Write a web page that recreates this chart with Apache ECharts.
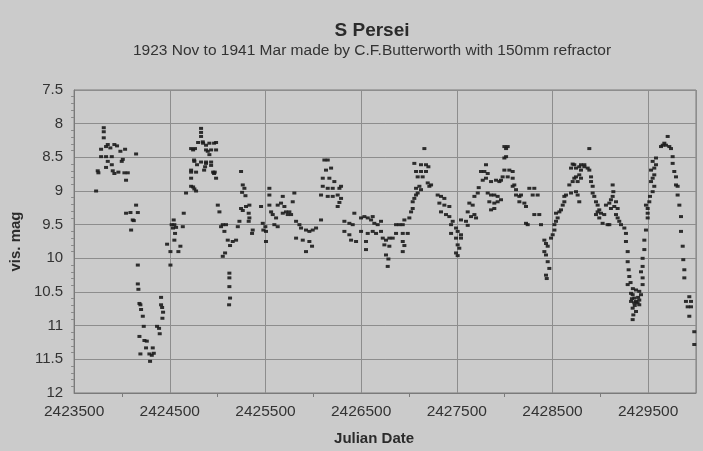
<!DOCTYPE html>
<html>
<head>
<meta charset="utf-8">
<script src="https://cdn.jsdelivr.net/npm/echarts@6/dist/echarts.min.js"></script>
<style>
html,body{margin:0;padding:0;background:#cbcbcb;}
#chart{width:703px;height:451px;}
</style>
</head>
<body>
<div id="chart"></div>
<script>
// ---- text ----
const chartTitle = "S Persei";
const chartSubtitle = "1923 Nov to 1941 Mar made by C.F.Butterworth with 150mm refractor";
const xAxisName = "Julian Date";
const yAxisName = "vis. mag";

// ---- axis ranges ----
const xMin = 2423500, xMax = 2430000, xStep = 1000;
const yMin = 7.5, yMax = 12, yStep = 0.5;

const obsBlockA = [
  [2423730,9.0],[2423747,8.70],[2423754,8.73],[2423782,8.38],[2423782,8.49],[2423810,8.06],[2423810,8.12],[2423810,8.21],
  [2423834,8.34],[2423834,8.49],[2423834,8.65],[2423852,8.31],[2423852,8.56],[2423879,8.36],[2423894,8.49],[2423894,8.61],
  [2423904,8.70],[2423921,8.31],[2423921,8.74],[2423949,8.33],[2423963,8.72],[2423984,8.41],[2423998,8.56],[2424009,8.53],
  [2424026,8.73],[2424033,8.38],[2424043,8.84],[2424061,8.73],[2424148,8.45],
  [2424148,9.21],[2424043,9.33],[2424089,9.32],[2424166,9.32],[2424113,9.43],[2424124,9.44],[2424096,9.58],
  [2424166,10.10],[2424166,10.38],[2424172,10.46],[2424183,10.67],[2424193,10.69],[2424200,10.76],[2424218,10.86],
  [2424228,11.01],[2424183,11.16],[2424235,11.22],[2424260,11.23],[2424252,11.33],[2424322,11.33],[2424193,11.42],
  [2424287,11.42],[2424312,11.44],[2424333,11.41],[2424294,11.53],[2424367,11.01],[2424388,11.04],[2424395,11.12],
  [2424423,10.89],[2424409,10.69],[2424420,10.73],[2424409,10.58],[2424430,10.80]
];
const obsBlockB = [
  [2424507,10.10],[2424507,9.90],[2424590,9.90],[2424472,9.79],[2424611,9.82],[2424548,9.73],[2424555,9.63],[2424541,9.43],
  [2424520,9.50],[2424548,9.50],[2424566,9.54],[2424534,9.55],[2424636,9.53],[2424646,9.33],[2424670,9.03],
  [2424723,8.93],[2424757,8.97],[2424775,9.0],[2424723,8.72],[2424775,8.72],[2424757,8.56],[2424785,8.61],[2424723,8.37],
  [2424764,8.37],[2424827,8.07],[2424827,8.13],[2424827,8.19],[2424845,8.27],[2424879,8.32],[2424914,8.29],[2424897,8.41],
  [2424914,8.46],[2424879,8.59],[2424869,8.64],[2424963,8.29],[2424984,8.39],[2424953,8.72],[2424963,8.74],[2424984,8.81],
  [2424723,8.69],[2424723,8.81],[2424744,8.94],[2424744,8.39],[2424754,8.54],[2424827,8.57],[2424879,8.57],[2424859,8.69],
  [2424879,8.39],[2424932,8.39],[2424796,8.28],[2424848,8.29],[2424984,8.28],[2424932,8.57],[2424932,8.62],[2424970,8.72],
  [2425002,9.21],[2425019,9.31],[2425054,9.50],[2425088,9.50],[2425036,9.53],[2425071,9.60],[2425106,9.73],[2425158,9.75],
  [2425193,9.73],[2425130,9.81],[2425054,9.97],[2425078,9.92],[2425123,10.22],[2425123,10.29],[2425123,10.42],
  [2425130,10.59],[2425120,10.69],[2425228,9.45],[2425211,9.53],[2425245,8.71],[2425263,8.91],[2425280,8.96],
  [2425256,9.02],[2425291,9.07],[2425245,9.26],[2425297,9.23],[2425332,9.21],[2425263,9.29],[2425325,9.33],[2425332,9.40],
  [2425325,9.45],[2425367,9.58],[2425360,9.63],[2425454,9.23],[2425472,9.48],[2425499,9.53],[2425478,9.58]
];
const obsBlockC = [
  [2425506,9.60],[2425506,9.75],[2425541,8.96],[2425541,9.06],[2425541,9.21],[2425559,9.31],[2425576,9.35],[2425611,9.40],
  [2425628,9.21],[2425663,9.18],[2425698,9.23],[2425715,9.31],[2425681,9.33],[2425733,9.35],[2425681,9.08],[2425593,9.50],
  [2425628,9.53],[2425750,9.31],[2425768,9.35],[2425802,9.03],[2425785,9.16],[2425820,9.45],[2425855,9.50],[2425872,9.55],
  [2425924,9.58],[2425959,9.60],[2425994,9.58],[2426029,9.55],[2425820,9.70],[2425890,9.73],[2425959,9.75],[2425924,9.90],
  [2425987,9.82],[2426081,9.43],[2426116,8.54],[2426151,8.54],[2426133,8.69],[2426186,8.66],[2426099,8.81],[2426168,8.81],
  [2426099,8.93],[2426151,8.96],[2426203,8.96],[2426081,9.06],[2426151,9.08],[2426203,9.08],[2426220,8.86],[2426273,8.96],
  [2426290,8.93],[2426255,9.06],[2426290,9.11],[2426273,9.17],[2426255,9.23],[2426325,9.45],[2426377,9.48],[2426412,9.50],
  [2426325,9.60],[2426377,9.65],[2426395,9.73],[2426447,9.75],[2426429,9.33],[2426499,9.40]
];
const obsBlockD = [
  [2426534,9.38],[2426569,9.40],[2426604,9.43],[2426621,9.38],[2426499,9.60],[2426569,9.63],[2426621,9.60],[2426656,9.63],
  [2426708,9.60],[2426551,9.75],[2426551,9.87],[2426638,9.48],[2426673,9.50],[2426708,9.45],[2426726,9.70],[2426760,9.73],
  [2426795,9.70],[2426830,9.70],[2426743,9.80],[2426795,9.82],[2426760,9.95],[2426785,10.01],[2426778,10.12],[2426865,9.50],
  [2426900,9.50],[2426935,9.50],[2426865,9.63],[2426935,9.63],[2426987,9.63],[2426935,9.75],[2426952,9.81],[2426935,9.90],
  [2426952,9.43],[2427004,9.40],[2427022,9.31],[2427039,9.26],[2427039,9.16],[2427056,9.11],[2427074,9.06],[2427091,9.03],
  [2427074,8.96],[2427109,8.93],[2427126,8.98],[2427056,8.59],[2427126,8.61],[2427178,8.61],[2427203,8.64],[2427074,8.71],
  [2427126,8.71],[2427178,8.71],[2427161,8.37],[2427091,8.79],[2427143,8.79],[2427196,8.88],[2427231,8.91],[2427213,8.93],
  [2427300,9.06],[2427335,9.08],[2427370,9.11],[2427318,9.18],[2427370,9.21],[2427422,9.23],[2427335,9.31],[2427387,9.35],
  [2427422,9.38],[2427457,9.45],[2427440,9.50],[2427492,9.55],[2427440,9.63],[2427492,9.70],[2427492,9.92]
];
const obsBlockE = [
  [2427509,9.60],[2427509,9.80],[2427526,9.85],[2427509,9.96],[2427544,9.43],[2427544,9.65],[2427544,9.70],[2427614,9.31],
  [2427649,9.38],[2427684,9.35],[2427701,9.40],[2427596,9.45],[2427614,9.51],[2427631,9.18],[2427666,9.21],[2427684,9.08],
  [2427719,9.03],[2427729,8.95],[2427753,8.71],[2427788,8.71],[2427823,8.74],[2427805,8.81],[2427771,8.84],[2427805,8.61],
  [2427823,9.03],[2427858,9.06],[2427892,9.06],[2427927,9.08],[2427840,9.16],[2427892,9.18],[2427927,9.16],[2427962,9.13],
  [2427858,9.28],[2427892,9.26],[2427858,8.86],[2427910,8.84],[2427945,8.86],[2427997,8.34],[2428015,8.37],[2428032,8.34],
  [2427997,8.51],[2428015,8.49],[2427997,8.69],[2428049,8.69],[2428084,8.71],[2427979,8.79],[2428032,8.79],[2428084,8.81],
  [2427962,8.84],[2428084,8.93],[2428101,8.91],[2428119,8.98],[2428119,9.06],[2428154,9.08],[2428171,9.06],[2428154,9.16],
  [2428206,9.18],[2428223,9.23],[2428258,8.96],[2428310,8.96],[2428345,9.06],[2428293,9.06],[2428223,9.48],[2428241,9.50],
  [2428310,9.35],[2428362,9.35],[2428380,9.50],[2428415,9.73],[2428432,9.78],[2428450,9.82],[2428415,9.90],[2428432,9.95],
  [2428450,10.05],[2428467,10.15],[2428432,10.25],[2428440,10.30],[2428485,9.70]
];
const obsBlockF = [
  [2428502,9.65],[2428520,9.58],[2428520,9.50],[2428537,9.45],[2428554,9.40],[2428537,9.33],[2428572,9.31],[2428589,9.28],
  [2428607,9.21],[2428624,9.16],[2428624,9.08],[2428641,9.06],[2428694,9.03],[2428676,8.91],[2428711,8.86],[2428728,8.81],
  [2428746,8.79],[2428694,8.66],[2428728,8.61],[2428746,8.66],[2428780,8.64],[2428798,8.69],[2428711,8.60],[2428833,8.61],
  [2428885,8.37],[2428798,8.61],[2428833,8.64],[2428868,8.66],[2428885,8.69],[2428780,8.76],[2428798,8.81],[2428763,8.86],
  [2428746,9.01],[2428763,9.06],[2428780,9.16],[2428903,8.79],[2428903,8.86],[2428920,8.93],[2428920,9.03],[2428937,9.08],
  [2428955,9.16],[2428972,9.21],[2428989,9.28],[2428955,9.35],[2428989,9.40],[2429024,9.48],[2429076,9.50],[2429094,9.50],
  [2428972,9.31],[2429007,9.33],[2429041,9.35],[2429059,9.21],[2429094,9.18],[2429111,9.26],[2429146,9.23],[2429129,8.91],
  [2429136,9.01],[2429129,9.08],[2429111,9.13],[2429164,9.16],[2429181,9.26],[2429164,9.35],[2429181,9.40],[2429198,9.45],
  [2429216,9.50],[2429251,9.55],[2429268,9.63],[2429268,9.75],[2429286,9.90],[2429286,10.05],[2429296,10.17],[2429303,10.27],
  [2429286,10.39],[2429321,10.52],[2429338,10.54],[2429355,10.59],[2429373,10.64],[2429390,10.66],[2429407,10.69],
  [2429321,10.64],[2429355,10.66],[2429407,10.62],[2429338,10.74],[2429373,10.79],[2429345,10.84],[2429338,10.91],
  [2429373,10.47],[2429407,10.49],[2429425,10.54],[2429442,10.39],[2429442,10.29],[2429425,10.20],[2429442,10.12],
  [2429442,10.00],[2429460,9.87],[2429460,9.73],[2429477,9.58],[2429495,9.40],[2429495,9.33],[2429495,9.26],[2429477,9.21],
  [2429330,10.60],[2429360,10.70],[2429395,10.58],[2429340,10.45],[2429316,10.36]
];
const obsBlockG = [
  [2429512,9.16],[2429519,9.08],[2429547,9.01],[2429564,8.93],[2429530,8.86],[2429547,8.81],[2429564,8.76],[2429530,8.69],
  [2429564,8.66],[2429582,8.61],[2429547,8.56],[2429582,8.51],[2429634,8.34],[2429652,8.32],[2429669,8.29],[2429686,8.32],
  [2429721,8.34],[2429739,8.37],[2429704,8.19],[2429756,8.49],[2429756,8.59],[2429773,8.71],[2429791,8.79],[2429791,8.91],
  [2429808,8.93],[2429808,9.06],[2429826,9.21],[2429843,9.38],[2429843,9.60],[2429861,9.82],[2429867,10.02],[2429878,10.17],
  [2429878,10.29],[2429930,10.57],[2429895,10.64],[2429948,10.64],[2429913,10.72],[2429948,10.72],[2429930,10.86],
  [2429982,11.09],[2429982,11.28]
];

const observations = [].concat(obsBlockA, obsBlockB, obsBlockC, obsBlockD, obsBlockE, obsBlockF, obsBlockG);

const textDark = '#2b2b2b';
const gridGray = '#8d8d8d';

const chart = echarts.init(document.getElementById('chart'), null, {renderer: 'canvas'});
chart.setOption({
  backgroundColor: '#cbcbcb',
  animation: false,
  title: [
    {text: chartTitle, left: 367, top: 16, textAlign: 'center',
     textStyle: {fontFamily: 'Liberation Sans, Arial, sans-serif', fontSize: 19, fontWeight: 'bold', color: textDark}},
    {text: chartSubtitle, left: 367, top: 38, textAlign: 'center',
     textStyle: {fontFamily: 'Liberation Sans, Arial, sans-serif', fontSize: 15.5, fontWeight: 'normal', color: '#333'}}
  ],
  grid: {left: 73, right: 7, top: 90, bottom: 58, show: true, borderColor: '#7a7a7a', borderWidth: 1, backgroundColor: 'transparent'},
  xAxis: {
    type: 'value', min: xMin, max: xMax, interval: xStep,
    name: xAxisName, nameLocation: 'middle', nameGap: 38,
    nameTextStyle: {fontFamily: 'Liberation Sans, Arial, sans-serif', fontSize: 15, fontWeight: 'bold', color: textDark, padding: [0, 22, 0, 0]},
    axisLine: {show: true, lineStyle: {color: '#7a7a7a'}},
    axisTick: {show: false},
    minorTick: {show: true, splitNumber: 2, length: 4, lineStyle: {color: '#7a7a7a'}},
    axisLabel: {fontFamily: 'Liberation Sans, Arial, sans-serif', fontSize: 15.5, color: '#333', margin: 11,
      formatter: v => (v >= xMax ? '' : String(v))},
    splitLine: {show: true, lineStyle: {color: gridGray, width: 1}}
  },
  yAxis: {
    type: 'value', inverse: true, min: yMin, max: yMax, interval: yStep,
    name: yAxisName, nameLocation: 'middle', nameGap: 50, nameRotate: 90,
    nameTextStyle: {fontFamily: 'Liberation Sans, Arial, sans-serif', fontSize: 15, fontWeight: 'bold', color: textDark},
    axisLine: {show: true, lineStyle: {color: '#7a7a7a'}},
    axisTick: {show: false},
    minorTick: {show: true, splitNumber: 5, length: 3, lineStyle: {color: '#8a8a8a'}},
    axisLabel: {fontFamily: 'Liberation Sans, Arial, sans-serif', fontSize: 15, color: '#333', margin: 11},
    splitLine: {show: true, lineStyle: {color: gridGray, width: 1}}
  },
  series: [{
    type: 'scatter',
    data: observations,
    symbol: 'rect',
    symbolSize: [4, 3],
    itemStyle: {color: '#1c1c1c', opacity: 0.9},
    silent: true
  }]
});
</script>
</body>
</html>
